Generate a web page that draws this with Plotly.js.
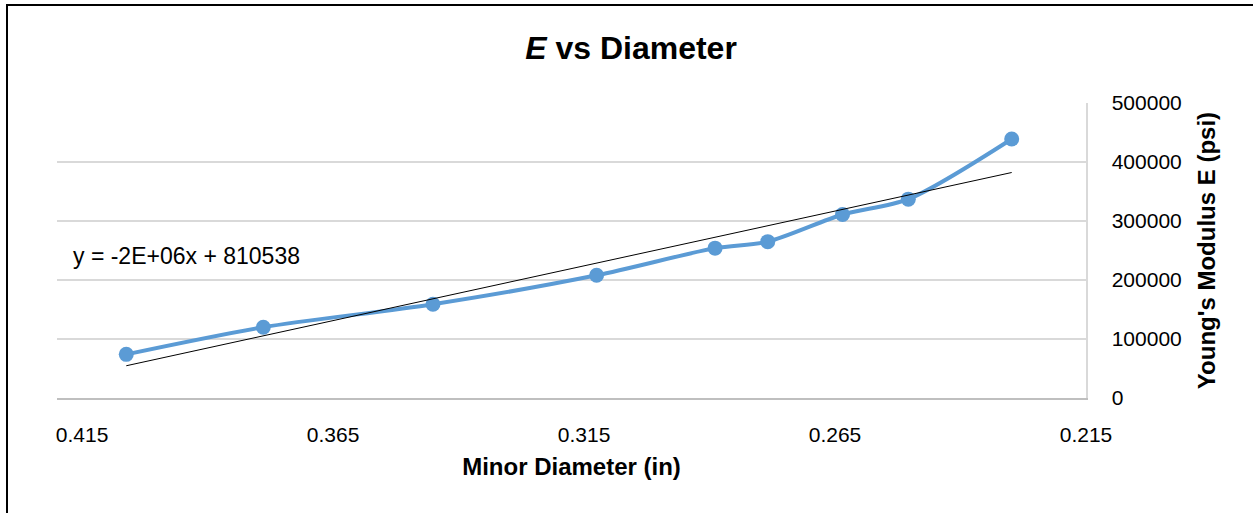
<!DOCTYPE html>
<html>
<head>
<meta charset="utf-8">
<script src="https://cdn.plot.ly/plotly-3.0.1.min.js"></script>
<style>
  html, body { margin: 0; padding: 0; background: #fff; }
  #wrap { position: relative; width: 1253px; height: 513px; overflow: hidden; }
  #chart { position: absolute; left: 0; top: 0; width: 1253px; height: 513px; }
  #frame { position: absolute; left: 6px; top: 4px; width: 1300px; height: 600px;
           border-top: 2px solid #000; border-left: 2px solid #000; pointer-events: none; }
</style>
</head>
<body>
<div id="wrap">
  <div id="chart"></div>
  <div id="frame"></div>
</div>
<script>
// Minor diameter (in) and Young's modulus E (psi)
const diameter = [0.4062, 0.3789, 0.3451, 0.3125, 0.2889, 0.2784, 0.2635, 0.2504, 0.2298];
const modulus  = [74000, 120000, 159000, 208000, 254000, 265000, 311000, 337000, 439000];

const xTickVals = [0.415, 0.365, 0.315, 0.265, 0.215];
const xTickText = ['0.415', '0.365', '0.315', '0.265', '0.215'];
const yTickVals = [0, 100000, 200000, 300000, 400000, 500000];
const yTickText = ['0', '100000', '200000', '300000', '400000', '500000'];

const equationText = 'y = -2E+06x + 810538';

// Linear trendline (least squares) over the data range
const n = diameter.length;
const mx = diameter.reduce((a, b) => a + b, 0) / n;
const my = modulus.reduce((a, b) => a + b, 0) / n;
let sxy = 0, sxx = 0;
for (let i = 0; i < n; i++) {
  sxy += (diameter[i] - mx) * (modulus[i] - my);
  sxx += (diameter[i] - mx) * (diameter[i] - mx);
}
const slope = sxy / sxx;
const intercept = my - slope * mx;
const trendX = [Math.max(...diameter), Math.min(...diameter)];
const trendY = trendX.map(x => slope * x + intercept);

const FONT = '"Liberation Sans", Arial, sans-serif';

const traces = [
  {
    x: diameter, y: modulus, type: 'scatter', mode: 'lines+markers',
    line: { color: '#5B9BD5', width: 4, shape: 'spline', smoothing: 0.8 },
    marker: { color: '#5B9BD5', size: 15 },
    showlegend: false, hoverinfo: 'skip'
  },
  {
    x: trendX, y: trendY, type: 'scatter', mode: 'lines',
    line: { color: '#000000', width: 1 },
    showlegend: false, hoverinfo: 'skip'
  }
];

const layout = {
  width: 1253, height: 513,
  margin: { l: 57, r: 167, t: 103, b: 115 },
  paper_bgcolor: '#ffffff', plot_bgcolor: '#ffffff',
  font: { family: FONT, color: '#000000', size: 21 },
  title: {
    text: '<b><i>E</i> vs Diameter</b>',
    font: { family: FONT, size: 32, color: '#000000' },
    x: 0.5036, xref: 'container', xanchor: 'center',
    y: 0.906, yref: 'container', yanchor: 'middle'
  },
  xaxis: {
    range: [0.42, 0.215],
    tickmode: 'array', tickvals: xTickVals, ticktext: xTickText,
    showgrid: false, zeroline: false,
    showline: true, linecolor: '#BFBFBF', linewidth: 1.5,
    ticks: '', ticklabelstandoff: 17,
    tickfont: { family: FONT, size: 21, color: '#000' },
    title: { text: '<b>Minor Diameter (in)</b>', font: { family: FONT, size: 24, color: '#000' }, standoff: 13 },
    automargin: false, fixedrange: true
  },
  yaxis: {
    range: [0, 500000], side: 'right',
    tickmode: 'array', tickvals: yTickVals, ticktext: yTickText,
    showgrid: true, gridcolor: '#D9D9D9', gridwidth: 1.5, zeroline: false,
    showline: true, linecolor: '#D9D9D9', linewidth: 1.5,
    ticks: '', ticklabelstandoff: 20,
    tickfont: { family: FONT, size: 21, color: '#000' },
    title: { text: "<b>Young's Modulus E (psi)</b>", font: { family: FONT, size: 24, color: '#000' }, standoff: 17 },
    automargin: false, fixedrange: true
  },
  annotations: [
    {
      text: equationText, xref: 'paper', yref: 'paper',
      x: 0.0136, y: 0.481, xanchor: 'left', yanchor: 'middle',
      showarrow: false, font: { family: FONT, size: 23, color: '#000' }
    }
  ]
};

Plotly.newPlot('chart', traces, layout, { staticPlot: true, displayModeBar: false });
</script>
</body>
</html>
